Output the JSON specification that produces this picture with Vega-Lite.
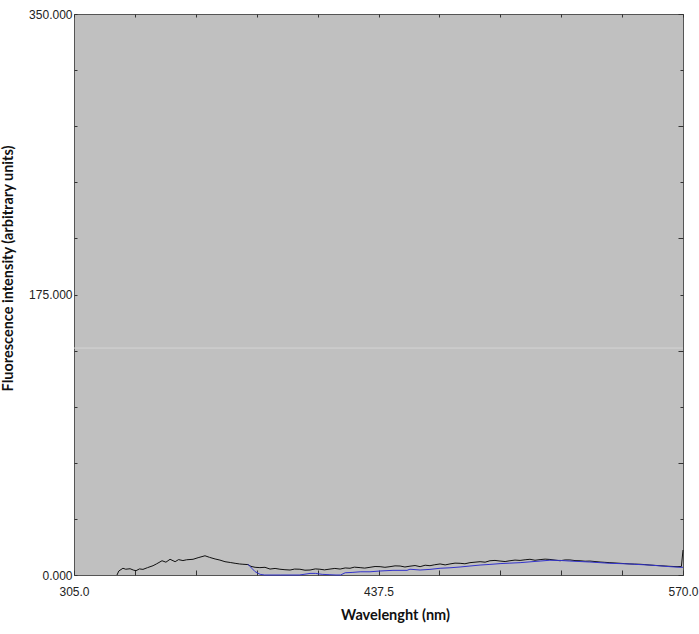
{
  "$schema": "https://vega.github.io/schema/vega-lite/v6.json",
  "autosize": {"type": "none"},
  "padding": {"left": 74, "top": 14, "right": 16, "bottom": 59},
  "width": 609,
  "height": 561,
  "background": "white",
  "config": {
    "view": {"fill": "#c0c0c0", "stroke": "#555555", "strokeWidth": 1},
    "axis": {"grid": false, "domain": false, "labelFont": "Liberation Sans", "labelFontSize": 12, "labelColor": "#222222", "tickColor": "#333333", "titleFont": "Lato", "titleFontWeight": "bold", "titleFontSize": 14.5, "titleColor": "#111111", "labelOverlap": false, "labelFlush": false}
  },
  "datasets": {
    "black": [
      {"wl": 323.7, "v": 0}, {"wl": 324.5, "v": 2.5}, {"wl": 326.3, "v": 4.2}, {"wl": 327.5, "v": 3.6},
      {"wl": 329.4, "v": 3.9}, {"wl": 331.0, "v": 3.0}, {"wl": 332.0, "v": 2.7}, {"wl": 333.5, "v": 3.8},
      {"wl": 335.0, "v": 3.5}, {"wl": 337.0, "v": 4.6}, {"wl": 339.4, "v": 5.8}, {"wl": 341.0, "v": 7.0},
      {"wl": 343.3, "v": 8.9}, {"wl": 345.0, "v": 8.0}, {"wl": 346.8, "v": 9.8}, {"wl": 349.0, "v": 8.3},
      {"wl": 350.5, "v": 9.6}, {"wl": 352.4, "v": 9.0}, {"wl": 354.0, "v": 9.5}, {"wl": 356.8, "v": 9.8},
      {"wl": 359.0, "v": 10.8}, {"wl": 362.0, "v": 12.0}, {"wl": 364.0, "v": 11.0}, {"wl": 366.4, "v": 10.0},
      {"wl": 368.5, "v": 9.3}, {"wl": 370.7, "v": 8.3}, {"wl": 373.0, "v": 7.8}, {"wl": 375.1, "v": 7.3},
      {"wl": 377.0, "v": 6.9}, {"wl": 378.5, "v": 6.7}, {"wl": 380.7, "v": 6.5}, {"wl": 382.0, "v": 5.4},
      {"wl": 383.8, "v": 4.8}, {"wl": 385.9, "v": 4.6}, {"wl": 388.1, "v": 4.8}, {"wl": 390.3, "v": 3.7},
      {"wl": 392.5, "v": 4.1}, {"wl": 394.6, "v": 3.6}, {"wl": 396.8, "v": 3.3}, {"wl": 399.0, "v": 3.1},
      {"wl": 401.0, "v": 3.7}, {"wl": 403.3, "v": 3.6}, {"wl": 405.5, "v": 3.0}, {"wl": 407.7, "v": 3.1},
      {"wl": 410.0, "v": 3.8}, {"wl": 412.0, "v": 3.6}, {"wl": 414.0, "v": 3.2}, {"wl": 416.4, "v": 3.7},
      {"wl": 418.5, "v": 4.1}, {"wl": 420.8, "v": 3.7}, {"wl": 423.0, "v": 4.4}, {"wl": 425.1, "v": 4.2},
      {"wl": 427.0, "v": 4.9}, {"wl": 429.5, "v": 4.6}, {"wl": 431.5, "v": 4.3}, {"wl": 433.8, "v": 4.8},
      {"wl": 436.0, "v": 5.3}, {"wl": 438.2, "v": 5.2}, {"wl": 440.3, "v": 4.8}, {"wl": 442.5, "v": 5.2},
      {"wl": 444.7, "v": 5.7}, {"wl": 446.9, "v": 5.6}, {"wl": 449.0, "v": 5.0}, {"wl": 451.2, "v": 5.5},
      {"wl": 453.4, "v": 5.9}, {"wl": 455.6, "v": 5.2}, {"wl": 457.8, "v": 6.1}, {"wl": 459.9, "v": 5.8},
      {"wl": 462.0, "v": 6.4}, {"wl": 464.3, "v": 6.9}, {"wl": 466.5, "v": 6.3}, {"wl": 468.6, "v": 6.9},
      {"wl": 470.8, "v": 7.4}, {"wl": 473.0, "v": 7.3}, {"wl": 475.1, "v": 7.0}, {"wl": 477.3, "v": 7.7},
      {"wl": 479.5, "v": 8.0}, {"wl": 481.7, "v": 8.3}, {"wl": 483.9, "v": 8.0}, {"wl": 486.0, "v": 8.9},
      {"wl": 488.2, "v": 9.1}, {"wl": 490.4, "v": 8.7}, {"wl": 492.6, "v": 8.4}, {"wl": 494.7, "v": 8.9},
      {"wl": 496.9, "v": 9.3}, {"wl": 499.1, "v": 9.1}, {"wl": 501.3, "v": 9.5}, {"wl": 503.4, "v": 9.8},
      {"wl": 505.6, "v": 9.2}, {"wl": 507.8, "v": 9.6}, {"wl": 510.0, "v": 9.9}, {"wl": 512.1, "v": 9.7},
      {"wl": 514.3, "v": 9.3}, {"wl": 516.5, "v": 8.9}, {"wl": 518.7, "v": 9.4}, {"wl": 520.8, "v": 9.4},
      {"wl": 523.0, "v": 9.0}, {"wl": 525.2, "v": 8.9}, {"wl": 527.4, "v": 8.6}, {"wl": 529.5, "v": 8.7},
      {"wl": 531.7, "v": 8.4}, {"wl": 533.9, "v": 8.1}, {"wl": 536.0, "v": 7.9}, {"wl": 538.2, "v": 7.7},
      {"wl": 540.4, "v": 7.5}, {"wl": 542.6, "v": 7.3}, {"wl": 544.7, "v": 7.1}, {"wl": 546.9, "v": 6.9},
      {"wl": 549.0, "v": 6.8}, {"wl": 551.3, "v": 6.7}, {"wl": 553.4, "v": 6.5}, {"wl": 555.6, "v": 6.2},
      {"wl": 557.8, "v": 6.0}, {"wl": 560.0, "v": 5.8}, {"wl": 562.2, "v": 5.6}, {"wl": 564.4, "v": 5.4},
      {"wl": 567.4, "v": 5.2}, {"wl": 569.3, "v": 5.3}, {"wl": 570.0, "v": 15.6}
    ],
    "blue": [
      {"wl": 380.7, "v": 6.7}, {"wl": 382.5, "v": 4.0}, {"wl": 383.8, "v": 2.1}, {"wl": 386.0, "v": 0.4},
      {"wl": 388.0, "v": 0}, {"wl": 395.0, "v": 0}, {"wl": 403.0, "v": 0}, {"wl": 405.5, "v": 0.5},
      {"wl": 407.7, "v": 1.0}, {"wl": 410.0, "v": 1.0}, {"wl": 413.0, "v": 0.4}, {"wl": 416.0, "v": 0.2},
      {"wl": 419.0, "v": 0}, {"wl": 421.0, "v": 0}, {"wl": 423.0, "v": 1.4}, {"wl": 426.0, "v": 1.6},
      {"wl": 429.5, "v": 2.0}, {"wl": 433.8, "v": 2.0}, {"wl": 438.2, "v": 2.5}, {"wl": 443.8, "v": 2.9},
      {"wl": 449.9, "v": 2.9}, {"wl": 451.2, "v": 3.6}, {"wl": 455.6, "v": 3.1}, {"wl": 459.9, "v": 3.5},
      {"wl": 464.3, "v": 4.2}, {"wl": 468.6, "v": 4.5}, {"wl": 473.0, "v": 5.0}, {"wl": 477.3, "v": 5.6},
      {"wl": 481.7, "v": 6.2}, {"wl": 486.0, "v": 6.6}, {"wl": 490.4, "v": 7.1}, {"wl": 494.7, "v": 7.4},
      {"wl": 499.1, "v": 7.7}, {"wl": 503.4, "v": 8.2}, {"wl": 507.8, "v": 8.7}, {"wl": 512.1, "v": 9.2},
      {"wl": 516.5, "v": 9.1}, {"wl": 520.8, "v": 8.7}, {"wl": 525.2, "v": 8.4}, {"wl": 529.5, "v": 8.1},
      {"wl": 533.9, "v": 7.7}, {"wl": 538.2, "v": 7.3}, {"wl": 542.6, "v": 7.1}, {"wl": 546.9, "v": 6.9},
      {"wl": 551.3, "v": 6.5}, {"wl": 555.6, "v": 6.2}, {"wl": 560.0, "v": 5.7}, {"wl": 564.4, "v": 5.2},
      {"wl": 568.7, "v": 4.8}, {"wl": 570.0, "v": 4.8}
    ],
    "streak": [{"level": 141.6}]
  },
  "resolve": {"scale": {"x": "independent", "y": "independent"}},
  "layer": [
    {
      "data": {"name": "streak"},
      "mark": {"type": "rule", "color": "#d4d4d4", "strokeWidth": 1},
      "encoding": {
        "y": {"field": "level", "type": "quantitative", "scale": {"domain": [0, 350], "nice": false}, "axis": null}
      }
    },
    {
      "data": {"name": "black"},
      "mark": {"type": "line", "color": "#111111", "strokeWidth": 1},
      "encoding": {
        "x": {"field": "wl", "type": "quantitative", "scale": {"domain": [305, 570], "nice": false, "zero": false},
          "axis": {"orient": "bottom", "title": "Wavelenght (nm)", "values": [305, 331.5, 358, 384.5, 411, 437.5, 464, 490.5, 517, 543.5, 570],
            "labelExpr": "datum.value == 305 || datum.value == 437.5 || datum.value == 570 ? format(datum.value, '.1f') : ''",
            "tickSize": -5, "labelPadding": 16, "titleX": 321, "titleY": 33, "titleAnchor": null}},
        "y": {"field": "v", "type": "quantitative", "scale": {"domain": [0, 350], "nice": false},
          "axis": {"orient": "left", "title": "Fluorescence intensity (arbitrary units)", "values": [0, 35, 70, 105, 140, 175, 210, 245, 280, 315, 350],
            "labelExpr": "datum.value % 175 == 0 ? format(datum.value, '.3f') : ''",
            "tickSize": -3, "labelPadding": 5, "titleX": -59, "titleY": 254}}
      }
    },
    {
      "data": {"name": "blue"},
      "mark": {"type": "line", "color": "#3333cc", "strokeWidth": 1},
      "encoding": {
        "x": {"field": "wl", "type": "quantitative", "scale": {"domain": [305, 570], "nice": false, "zero": false},
          "axis": {"orient": "top", "title": null, "labels": false, "values": [305, 331.5, 358, 384.5, 411, 437.5, 464, 490.5, 517, 543.5, 570], "tickSize": -3}},
        "y": {"field": "v", "type": "quantitative", "scale": {"domain": [0, 350], "nice": false},
          "axis": {"orient": "right", "title": null, "labels": false, "values": [0, 35, 70, 105, 140, 175, 210, 245, 280, 315, 350],
            "tickSize": {"condition": {"test": "datum.value % 70 == 0", "value": -5}, "value": -3}}}
      }
    }
  ]
}
